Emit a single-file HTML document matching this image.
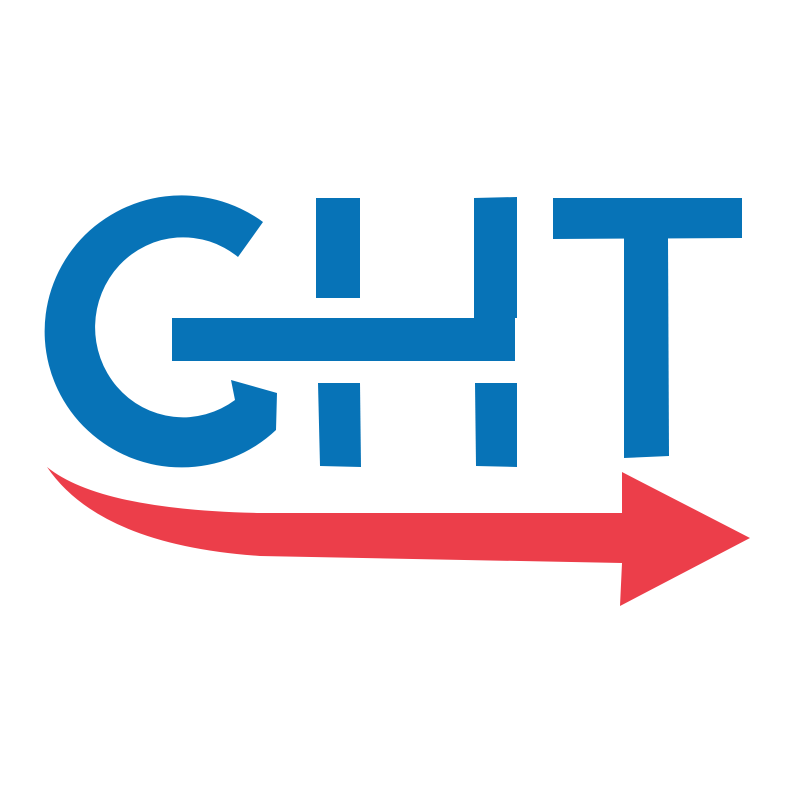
<!DOCTYPE html>
<html><head><meta charset="utf-8"><style>html,body{margin:0;padding:0;background:#fff}svg{display:block}</style></head>
<body>
<svg width="800" height="800" viewBox="0 0 800 800" role="img" aria-label="GHT">
<title>GHT</title>
<g fill="#0773b7">
<path d="M263 222 A137 136 0 1 0 276 430 L277 393 L231 380 L235 400 A88 90 0 1 1 238 257 Z"/>
<g>
<rect x="172" y="318" width="343" height="43"/>
<polygon points="316,198 360,198 360,298 316,298"/>
<polygon points="318,383 360,383 361,467 320,466"/>
<polygon points="474,198 517,197 517,318 474,318"/>
<polygon points="475,383 517,383 517,467 476,466"/>
</g>
<g>
<polygon points="553,198 742,198 742,238 553,239"/>
<polygon points="624,238 668,238 669,456 624,458"/>
</g>
</g>
<path fill="#ec3e4a" d="M47 467 Q100 510 260 513 L622 513 L622 472 L750 538 L620 606 L622 563 L260 556 Q100 545 47 467 Z"/>
<text x="400" y="780" font-size="1" fill="#fff" font-family="Liberation Sans, sans-serif">GHT</text>
</svg>
</body></html>
